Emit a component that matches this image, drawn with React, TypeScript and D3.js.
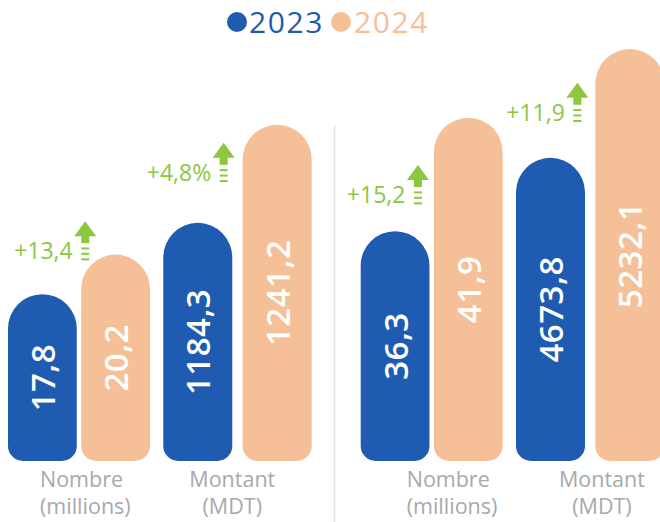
import React from "react";
import * as d3 from "d3";

// ---- data ----
const years = ["2023", "2024"];
const panels = ["P1", "P2"];
const metrics = ["Nombre", "Montant"];
const metricLabels = [["Nombre", "(millions)"], ["Montant", "(MDT)"]];
// values as printed, per panel x metric
const values2023 = [17.8, 1184.3, 36.3, 4673.8];
const values2024 = [20.2, 1241.2, 41.9, 5232.1];
const valueLabels2023 = ["17,8", "1184,3", "36,3", "4673,8"];
const valueLabels2024 = ["20,2", "1241,2", "41,9", "5232,1"];
const growthLabels = ["+13,4", "+4,8%", "+15,2", "+11,9"];
// visual bar level (bars are not drawn to a common scale)
const level2023 = [40.5, 57.8, 55.8, 73.6];
const level2024 = [50.1, 81.6, 83.3, 100];

// ---- layout / style ----
const W = 660, H = 522;
const BLUE = "#1f5bb0";
const PEACH = "#f5bf98";
const GREEN = "#8dc63f";
const GRAY = "#a7a9ac";
const FONT = "'Open Sans', 'Noto Sans', sans-serif";
const annotDx = [4, -19, -16, -18];
const annotDy = [-35, -42, -28, -37];
const labelDx = [32, 69, 46, 86];
const labelAnchor = ["start", "middle", "start", "middle"];
const pairWidth = [142, 148.4];
const pairPad = [0.061, 0.131];

function barPath(x: number, top: number, w: number, bottom: number) {
  const r = w / 2;
  const rb = 15;
  return `M${x},${bottom - rb} L${x},${top + r} A${r},${r} 0 0 1 ${x + w},${top + r} L${x + w},${bottom - rb} A${rb},${rb} 0 0 1 ${x + w - rb},${bottom} L${x + rb},${bottom} A${rb},${rb} 0 0 1 ${x},${bottom - rb} Z`;
}

export default function App() {
  const panelX = d3.scaleBand<string>().domain(panels).range([8, 8 + 2 * 352.7]).padding(0);
  const groupX = d3.scaleBand<string>().domain(metrics).range([0, 300.3]).paddingInner(0.066).paddingOuter(0);
  const yearXs = metrics.map((_, mi) =>
    d3.scaleBand<string>().domain(years).range([0, pairWidth[mi]]).paddingInner(pairPad[mi]).paddingOuter(0)
  );
  const y = d3.scaleLinear().domain([0, 100]).range([461, 49]);
  const bottom = y(0);

  const groups = panels.flatMap((p, pi) => metrics.map((m, mi) => ({ p, m, pi, mi, gi: pi * 2 + mi })));

  return (
    <svg width={W} height={H} style={{ position: "absolute", left: 0, top: 0, overflow: "hidden", fontFamily: FONT }}>
      {/* legend */}
      <g>
        <circle cx={237} cy={22} r={10} fill={BLUE} />
        <text x={249} y={33} fontSize={30} fill={BLUE} letterSpacing={1.6}>{years[0]}</text>
        <circle cx={341} cy={22} r={10} fill={PEACH} />
        <text x={354} y={33} fontSize={30} fill={PEACH} letterSpacing={1.6}>{years[1]}</text>
      </g>
      {/* divider */}
      <line x1={panelX(panels[1])! - 26} x2={panelX(panels[1])! - 26} y1={125} y2={H} stroke="#e6e6e6" strokeWidth={1.5} />
      {groups.map((g) => {
        const yearX = yearXs[g.mi];
        const gx = panelX(g.p)! + groupX(g.m)!;
        const w = yearX.bandwidth();
        const bars = [
          { yr: years[0], lvl: level2023[g.gi], lab: valueLabels2023[g.gi], fill: BLUE },
          { yr: years[1], lvl: level2024[g.gi], lab: valueLabels2024[g.gi], fill: PEACH },
        ];
        const x24 = gx + yearX(years[1])!;
        const top23 = y(level2023[g.gi]);
        const cx = x24 + annotDx[g.gi];
        const base = top23 + annotDy[g.gi];
        const lines = metricLabels[g.mi];
        return (
          <g key={g.gi}>
            {bars.map((b) => {
              const bx = gx + yearX(b.yr)!;
              const top = y(b.lvl);
              const mid = (top + bottom) / 2;
              return (
                <g key={b.yr}>
                  <path d={barPath(bx, top, w, bottom)} fill={b.fill} />
                  <text
                    transform={`translate(${bx + w / 2},${mid}) rotate(-90)`}
                    textAnchor="middle"
                    dominantBaseline="central"
                    fontSize={33}
                    fontWeight={600}
                    letterSpacing={0.5}
                    fill="#ffffff"
                  >
                    {b.lab}
                  </text>
                </g>
              );
            })}
            {/* growth annotation */}
            <text x={cx - 12.5} y={base} textAnchor="end" fontSize={23} fill={GREEN}>{growthLabels[g.gi]}</text>
            <path d={`M${cx},${base - 38} L${cx + 11},${base - 23} L${cx - 11},${base - 23} Z`} fill={GREEN} />
            <rect x={cx - 4} y={base - 23.5} width={8} height={7.5} fill={GREEN} />
            {[-11.7, -6.3, -0.8].map((o, i) => (
              <rect key={i} x={cx - 4} y={base + o} width={8} height={2} fill={GREEN} />
            ))}
            {/* category label */}
            {lines.map((t, i) => (
              <text
                key={i}
                x={gx + labelDx[g.gi]}
                y={487 + i * 27}
                textAnchor={labelAnchor[g.gi] as any}
                fontSize={21.5}
                fill={GRAY}
              >
                {t}
              </text>
            ))}
          </g>
        );
      })}
    </svg>
  );
}
